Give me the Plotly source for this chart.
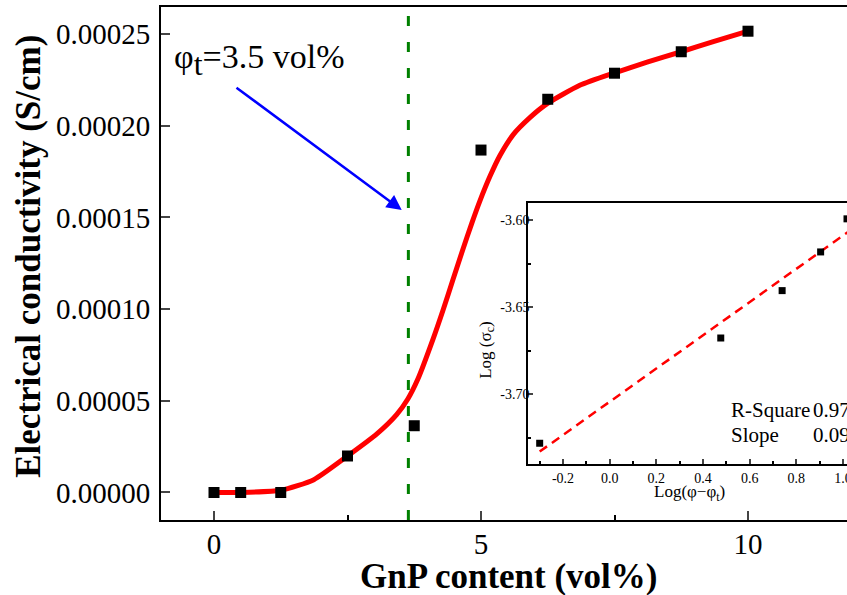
import plotly.graph_objects as go

# ---- main data ----
gnp_content = [0, 0.5, 1.25, 2.5, 3.75, 5, 6.25, 7.5, 8.75, 10]
conductivity = [0.0, 0.0, 0.0, 1.99e-5, 3.64e-5, 1.867e-4, 2.144e-4, 2.286e-4, 2.403e-4, 2.515e-4]

fit_x = [0, 0.5, 1.25, 1.87, 2.5, 3.05, 3.42, 3.63, 3.82, 4.1, 4.29, 4.48, 4.66,
         4.83, 4.98, 5.17, 5.36, 5.6, 5.92, 6.24, 6.85, 7.49, 8.11, 8.75, 9.35, 10]
fit_y = [0.0, 0.0, 0.12e-5, 0.70e-5, 1.99e-5, 3.20e-5, 4.25e-5, 5.10e-5, 6.20e-5,
         8.35e-5, 9.95e-5, 11.65e-5, 13.25e-5, 14.70e-5, 15.90e-5, 17.25e-5,
         18.40e-5, 19.50e-5, 20.45e-5, 21.20e-5, 22.20e-5, 22.87e-5, 23.46e-5,
         24.03e-5, 24.58e-5, 25.15e-5]

threshold_line_x = 3.64
x_ticks = [0, 5, 10]
y_ticks = [0, 5e-5, 10e-5, 15e-5, 20e-5, 25e-5]

# ---- inset data ----
log_phi = [-0.30, 0.476, 0.739, 0.904, 1.017]
log_sigma = [-3.7281, -3.6677, -3.6405, -3.6183, -3.5993]
fit_log_x = [-0.30, 1.02]
fit_log_y = [-3.7329, -3.6070]
inset_x_ticks = [-0.2, 0.0, 0.2, 0.4, 0.6, 0.8, 1.0]
inset_x_labels = ["-0.2", "0.0", "0.2", "0.4", "0.6", "0.8", "1.0"]
inset_y_ticks = [-3.70, -3.65, -3.60]
inset_y_labels = ["-3.70", "-3.65", "-3.60"]

FONT = "Liberation Serif, Times New Roman, serif"

fig = go.Figure()

fig.add_trace(go.Scatter(x=fit_x, y=fit_y, mode="lines",
                         line=dict(color="#ff0000", width=5, shape="spline", smoothing=0.6),
                         showlegend=False, hoverinfo="skip"))
fig.add_trace(go.Scatter(x=gnp_content, y=conductivity, mode="markers",
                         marker=dict(symbol="square", size=11, color="black"),
                         showlegend=False))

fig.add_trace(go.Scatter(x=fit_log_x, y=fit_log_y, mode="lines", xaxis="x2", yaxis="y2",
                         line=dict(color="#ff0000", width=2.5, dash="9px,6px"),
                         showlegend=False))
fig.add_trace(go.Scatter(x=log_phi, y=log_sigma, mode="markers", xaxis="x2", yaxis="y2",
                         marker=dict(symbol="square", size=7, color="black"),
                         cliponaxis=False, showlegend=False))

fig.add_shape(type="line", xref="x", yref="paper", x0=threshold_line_x, x1=threshold_line_x,
              y0=0, y1=0.988, line=dict(color="#008000", width=3, dash="10px,16px"))

fig.add_annotation(x=3.515, y=15.40e-5, ax=0.393, ay=22.13e-5, xref="x", yref="y",
                   axref="x", ayref="y", text="", showarrow=True, arrowhead=2,
                   arrowsize=1.2, arrowwidth=2.5, arrowcolor="#0000ff")

fig.add_annotation(x=0.843, y=23.57e-5, xref="x", yref="y", xanchor="center", yanchor="middle",
                   text='φ<sub><span style="font-size:32px">t</span></sub>=3.5 vol%',
                   showarrow=False, font=dict(family=FONT, size=34, color="black"))

# main axis titles
fig.add_annotation(x=0.506, y=-0.111, xref="paper", yref="paper", xanchor="center",
                   yanchor="middle", text="<b>GnP content (vol%)</b>", showarrow=False,
                   font=dict(family=FONT, size=35, color="black"))
fig.add_annotation(x=-0.1924, y=0.513, xref="paper", yref="paper", xanchor="center",
                   yanchor="middle", text="<b>Electrical conductivity (S/cm)</b>",
                   textangle=-90, showarrow=False, font=dict(family=FONT, size=35, color="black"))

# inset titles & stats
fig.add_annotation(x=0.771, y=0.0526, xref="paper", yref="paper", xanchor="center",
                   yanchor="middle", text="Log(φ−φ<sub>t</sub>)",
                   showarrow=False, font=dict(family=FONT, size=17, color="black"))
fig.add_annotation(x=0.475, y=0.3314, xref="paper", yref="paper", xanchor="center",
                   yanchor="middle", text="Log (σ<sub>c</sub>)",
                   textangle=-90, showarrow=False, font=dict(family=FONT, size=17, color="black"))
fig.add_annotation(x=0.828, y=0.2144, xref="paper", yref="paper", xanchor="left",
                   yanchor="middle", text="R-Square", showarrow=False,
                   font=dict(family=FONT, size=21, color="black"))
fig.add_annotation(x=0.947, y=0.2144, xref="paper", yref="paper", xanchor="left",
                   yanchor="middle", text="0.97", showarrow=False,
                   font=dict(family=FONT, size=21, color="black"))
fig.add_annotation(x=0.828, y=0.1657, xref="paper", yref="paper", xanchor="left",
                   yanchor="middle", text="Slope", showarrow=False,
                   font=dict(family=FONT, size=21, color="black"))
fig.add_annotation(x=0.947, y=0.1657, xref="paper", yref="paper", xanchor="left",
                   yanchor="middle", text="0.09", showarrow=False,
                   font=dict(family=FONT, size=21, color="black"))

fig.update_layout(
    width=847, height=595,
    margin=dict(l=161, r=0, t=7, b=75, autoexpand=False),
    paper_bgcolor="white", plot_bgcolor="white",
    font=dict(family=FONT, color="black"),
    xaxis=dict(range=[-0.9925, 11.854], tickvals=x_ticks, ticks="inside", ticklen=9, tickwidth=2,
               showline=True, linewidth=2, linecolor="black", mirror=True, showgrid=False,
               zeroline=False, tickfont=dict(size=29), ticklabelstandoff=-3,
               minor=dict(dtick=2.5, tick0=0, ticks="inside", ticklen=5, tickwidth=2,
                          tickcolor="black", showgrid=False)),
    yaxis=dict(range=[-1.50e-5, 26.47e-5], tickvals=y_ticks, tickformat=".5f",
               ticks="inside", ticklen=9, tickwidth=2, showline=True, linewidth=2,
               linecolor="black", mirror=False, showgrid=False, zeroline=False,
               tickfont=dict(size=29), ticklabelstandoff=3),
    xaxis2=dict(domain=[0.535, 1.0], anchor="y2", range=[-0.35, 1.017],
                tickvals=inset_x_ticks, ticktext=inset_x_labels, ticks="inside", ticklen=5,
                tickwidth=1.5, showline=True, linewidth=1.5, linecolor="black", mirror=True,
                showgrid=False, zeroline=False, tickfont=dict(size=14), ticklabelstandoff=0,
                ticklabeloverflow="allow",
                minor=dict(dtick=0.1, tick0=0, ticks="inside", ticklen=3, tickwidth=1.5,
                           tickcolor="black", showgrid=False)),
    yaxis2=dict(domain=[0.1092, 0.6173], anchor="x2", range=[-3.7400, -3.5904],
                tickvals=inset_y_ticks, ticktext=inset_y_labels, ticks="inside", ticklen=5,
                tickwidth=1.5, showline=True, linewidth=1.5, linecolor="black", mirror=False,
                showgrid=False, zeroline=False, tickfont=dict(size=14), ticklabelstandoff=-6,
                minor=dict(dtick=0.025, tick0=-3.6, ticks="inside", ticklen=3, tickwidth=1.5,
                           tickcolor="black", showgrid=False)),
)

fig.write_html("out.html", config={"displayModeBar": False},
               post_script="document.body.style.margin='0';document.body.style.overflow='hidden';")
